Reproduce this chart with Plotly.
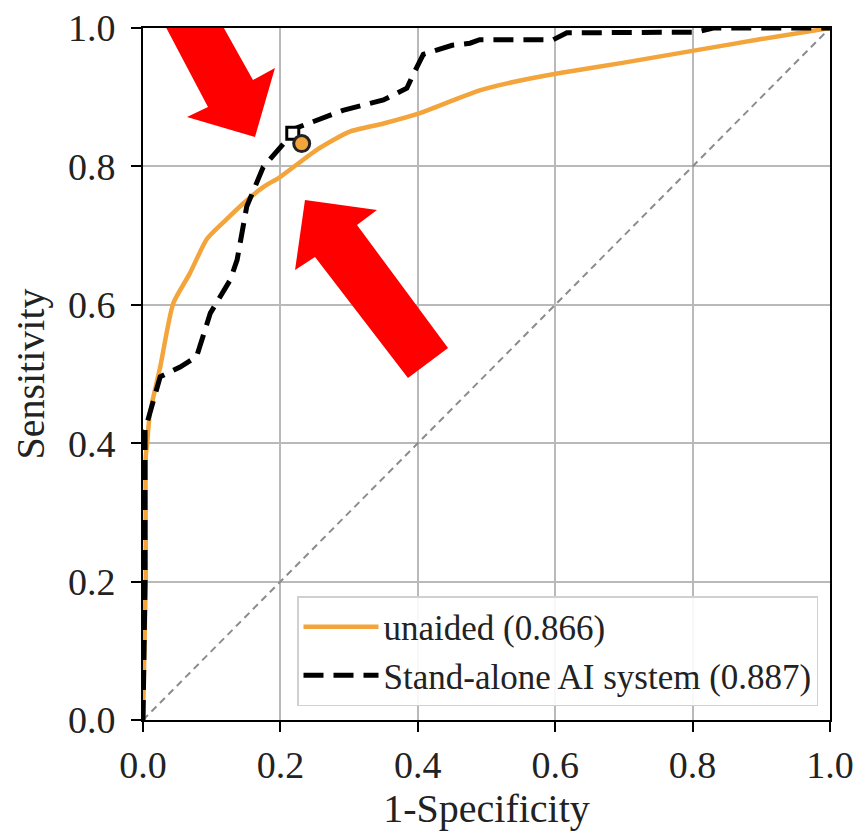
import plotly.graph_objects as go

# ---- data ----
unaided_fpr = [0.0, 0.004, 0.004, 0.006, 0.010, 0.025, 0.044, 0.068, 0.093, 0.120, 0.150, 0.175,
               0.200, 0.253, 0.300, 0.350, 0.403, 0.450, 0.490, 0.539, 0.607, 0.700, 0.806, 0.900, 1.0]
unaided_tpr = [0.0, 0.20, 0.38, 0.40, 0.443, 0.510, 0.602, 0.645, 0.695, 0.722, 0.750, 0.770,
               0.785, 0.824, 0.850, 0.862, 0.877, 0.895, 0.910, 0.922, 0.935, 0.950, 0.968, 0.984, 1.0]

ai_fpr = [0.0, 0.003, 0.003, 0.010, 0.025, 0.054, 0.078, 0.098, 0.127, 0.137, 0.151, 0.175, 0.209,
          0.214, 0.239, 0.291, 0.350, 0.384, 0.392, 0.408, 0.450, 0.476, 0.490, 0.597, 0.617, 0.806,
          0.830, 1.0]
ai_tpr = [0.0, 0.200, 0.419, 0.443, 0.496, 0.510, 0.525, 0.588, 0.636, 0.665, 0.742, 0.799, 0.838,
          0.852, 0.862, 0.881, 0.896, 0.913, 0.930, 0.962, 0.975, 0.978, 0.983, 0.983, 0.993, 0.994,
          1.0, 1.0]

chance = [0.0, 1.0]

reader_point_x = [0.231]
reader_point_y = [0.833]
ai_point_x = [0.218]
ai_point_y = [0.848]

series_names = ["unaided (0.866)", "Stand-alone AI system (0.887)"]
tick_vals = [0.0, 0.2, 0.4, 0.6, 0.8, 1.0]
tick_text = ["0.0", "0.2", "0.4", "0.6", "0.8", "1.0"]

# ---- annotation arrows (pixel outlines in the picture) ----
arrow1_px = [(141, -20), (208, 107), (187, 117), (255, 137), (275, 68), (253, 80), (197, -20)]
arrow2_px = [(305, 200), (377, 210), (357, 225), (448, 348), (408, 378), (315, 257), (295, 270)]

W, H = 866, 832
PAGE_OFF = 8                       # default body margin of the page
PLOT_L, PLOT_R, PLOT_T, PLOT_B = 143, 830, 28, 720   # plot box in screen pixels
L = PLOT_L - PAGE_OFF
T = PLOT_T - PAGE_OFF
R = W - (PLOT_R - PAGE_OFF)
B = H - (PLOT_B - PAGE_OFF)
PW, PH = PLOT_R - PLOT_L, PLOT_B - PLOT_T

def px_to_data(pts):
    return [((x - PLOT_L) / PW, (PLOT_B - y) / PH) for x, y in pts]

def path_of(pts):
    d = px_to_data(pts)
    return "M " + " L ".join(f"{x:.4f},{y:.4f}" for x, y in d) + " Z"

FONT = "Liberation Serif, Times New Roman, serif"
ORANGE = "#F3A43A"

fig = go.Figure()
fig.add_trace(go.Scatter(x=chance, y=chance, mode="lines", showlegend=False,
                         line=dict(color="#8c8c8c", width=2, dash="7px,5px")))
fig.add_trace(go.Scatter(x=unaided_fpr, y=unaided_tpr, mode="lines", name=series_names[0],
                         line=dict(color=ORANGE, width=4.5, shape="spline", smoothing=0.6)))
fig.add_trace(go.Scatter(x=ai_fpr, y=ai_tpr, mode="lines", name=series_names[1],
                         line=dict(color="black", width=5, dash="20px,10px")))
fig.add_trace(go.Scatter(x=ai_point_x, y=ai_point_y, mode="markers", showlegend=False,
                         marker=dict(symbol="square", size=12, color="white",
                                     line=dict(color="black", width=3))))
fig.add_trace(go.Scatter(x=reader_point_x, y=reader_point_y, mode="markers", showlegend=False,
                         marker=dict(symbol="circle", size=16, color=ORANGE,
                                     line=dict(color="#222222", width=3))))

shapes = []
for pts in (arrow1_px, arrow2_px):
    shapes.append(dict(type="path", xref="x", yref="y", path=path_of(pts),
                       fillcolor="#FF0000", line=dict(width=0), layer="above"))

axis_common = dict(range=[0, 1], tickvals=tick_vals, ticktext=tick_text,
                   showgrid=True, gridcolor="#b9b9b9", gridwidth=2,
                   showline=True, linecolor="black", linewidth=2, mirror=True,
                   ticks="outside", ticklen=10, tickwidth=2, tickcolor="black",
                   tickfont=dict(family=FONT, size=38, color="#222222"),
                   ticklabeloverflow="allow",
                   zeroline=False, fixedrange=True, automargin=False)

fig.update_layout(
    width=W, height=H,
    margin=dict(l=L, r=R, t=T, b=B),
    paper_bgcolor="white", plot_bgcolor="white",
    font=dict(family=FONT, color="#222222"),
    shapes=shapes,
    xaxis=dict(**axis_common, title=dict(text="1-Specificity", font=dict(family=FONT, size=40), standoff=0)),
    yaxis=dict(**axis_common, ticklabelstandoff=8,
               title=dict(text="Sensitivity", font=dict(family=FONT, size=40), standoff=12)),
    legend=dict(x=1 - 12 / PW, xanchor="right", y=14 / PH, yanchor="bottom",
                bgcolor="rgba(255,255,255,0.9)", bordercolor="#d0d0d0", borderwidth=1.5,
                font=dict(family=FONT, size=35, color="#222222"), itemwidth=75,
                tracegroupgap=0),
    showlegend=True,
)

fig.write_html("out.html")
